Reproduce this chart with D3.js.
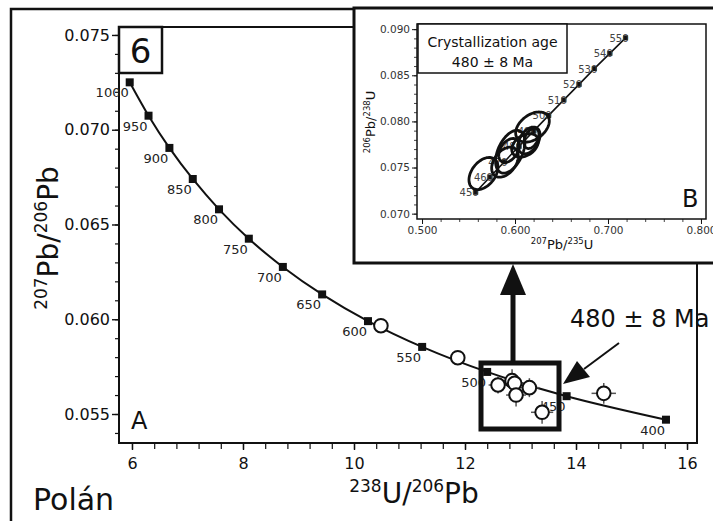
<!DOCTYPE html>
<html><head><meta charset="utf-8">
<script src="https://cdn.jsdelivr.net/npm/d3@7"></script>
<style>
html,body{margin:0;padding:0;background:#fff;}
svg{display:block;font-family:"DejaVu Sans",sans-serif;}
</style></head>
<body>
<svg id="c" width="713" height="521"></svg>
<script>
// ---- Main Tera-Wasserburg concordia (age markers) ----
const mainAges = [1000, 950, 900, 850, 800, 750, 700, 650, 600, 550, 500, 450, 400];
const mainU238Pb206 = [5.959, 6.298, 6.674, 7.095, 7.568, 8.105, 8.718, 9.426, 10.252, 11.228, 12.399, 13.831, 15.621];
const mainPb207Pb206 = [0.07250, 0.07074, 0.06904, 0.06740, 0.06580, 0.06425, 0.06276, 0.06131, 0.05990, 0.05854, 0.05722, 0.05594, 0.05470];

// ---- Main analyses (open circles with error crosses) ----
const ptU238Pb206 = [10.485, 11.870, 12.595, 12.848, 12.895, 13.160, 12.920, 13.389, 14.500];
const ptPb207Pb206 = [0.05966, 0.05797, 0.05653, 0.05676, 0.05662, 0.05639, 0.05600, 0.05509, 0.05609];
const ptErrX = [0.08, 0.08, 0.17, 0.15, 0.15, 0.18, 0.18, 0.20, 0.22];
const ptErrY = [0.0002, 0.0002, 0.00045, 0.0006, 0.0005, 0.0005, 0.0006, 0.0006, 0.00055];

// ---- Main axis ticks ----
const mainXTicks = [6, 8, 10, 12, 14, 16];
const mainYTicks = [0.055, 0.060, 0.065, 0.070, 0.075];

// ---- Inset Wetherill concordia ----
const insetAges = [450, 460, 470, 480, 490, 500, 510, 520, 530, 540, 550];
const insetPb207U235 = [0.5577, 0.5731, 0.5886, 0.6043, 0.6202, 0.6362, 0.6525, 0.6689, 0.6853, 0.7020, 0.7189];
const insetPb206U238 = [0.07232, 0.07397, 0.07563, 0.07730, 0.07897, 0.08065, 0.08233, 0.08402, 0.08572, 0.08738, 0.08906];

// ---- Inset error ellipses ----
const ellX = [0.5661, 0.5892, 0.5949, 0.5935, 0.6108, 0.6151, 0.6188, 0.6177];
const ellY = [0.07435, 0.07558, 0.07671, 0.07685, 0.07740, 0.07794, 0.07939, 0.07816];
const ellSX = [0.0156, 0.0143, 0.0158, 0.0110, 0.0143, 0.0118, 0.0181, 0.0080];
const ellSY = [0.00174, 0.00163, 0.00232, 0.00130, 0.00127, 0.00145, 0.00163, 0.00110];
const ellRho = [0.4, 0.4, 0.45, 0.4, 0.35, 0.4, 0.4, 0.4];

const insetXTicks = [0.5, 0.6, 0.7, 0.8];
const insetYTicks = [0.070, 0.075, 0.080, 0.085, 0.090];

const svg = d3.select("#c");
const ink = "#111";

// ---------- outer frame ----------
svg.append("path").attr("d", "M11,521 L11,9 L360,9").attr("fill","none").attr("stroke",ink).attr("stroke-width",2.5);

// ---------- main plot ----------
const mL = 119, mR = 697, mT = 27, mB = 443;
const x = d3.scaleLinear().domain([5.766, 16.18]).range([mL, mR]);
const y = d3.scaleLinear().domain([0.05347, 0.07542]).range([mB, mT]);

const g = svg.append("g");

// minor ticks
const xMinor = d3.range(6, 16.001, 0.4);
g.append("g").attr("transform",`translate(0,${mB})`)
  .call(d3.axisBottom(x).tickValues(xMinor).tickSize(6).tickFormat(""))
  .call(a=>a.select(".domain").remove())
  .call(a=>a.selectAll("line").attr("stroke",ink).attr("stroke-width",1.2));
const yMinor = d3.range(0.054, 0.0751, 0.001);
g.append("g").attr("transform",`translate(${mL},0)`)
  .call(d3.axisLeft(y).tickValues(yMinor).tickSize(4).tickFormat(""))
  .call(a=>a.select(".domain").remove())
  .call(a=>a.selectAll("line").attr("stroke",ink).attr("stroke-width",1.2));
// major ticks
g.append("g").attr("transform",`translate(0,${mB})`)
  .call(d3.axisBottom(x).tickValues(mainXTicks).tickSize(7).tickPadding(8).tickFormat(d3.format("d")))
  .call(a=>a.select(".domain").remove())
  .call(a=>a.selectAll("line").attr("stroke",ink).attr("stroke-width",1.4))
  .call(a=>a.selectAll("text").attr("font-size",16).attr("fill",ink).attr("font-family","DejaVu Sans"));
g.append("g").attr("transform",`translate(${mL},0)`)
  .call(d3.axisLeft(y).tickValues(mainYTicks).tickSize(7).tickPadding(2).tickFormat(d3.format(".3f")))
  .call(a=>a.select(".domain").remove())
  .call(a=>a.selectAll("line").attr("stroke",ink).attr("stroke-width",1.4))
  .call(a=>a.selectAll("text").attr("font-size",16).attr("fill",ink).attr("font-family","DejaVu Sans"));

// plot frame (left, bottom, right partial, top partial)
g.append("path").attr("d",`M360,${mT} L${mL},${mT} L${mL},${mB} L${mR},${mB} L${mR},262`)
  .attr("fill","none").attr("stroke",ink).attr("stroke-width",2);

// concordia curve
const cData = mainAges.map((a,i)=>({a, x:mainU238Pb206[i], y:mainPb207Pb206[i]}));
g.append("path").datum(cData)
  .attr("d", d3.line().x(d=>x(d.x)).y(d=>y(d.y)).curve(d3.curveCatmullRom))
  .attr("fill","none").attr("stroke",ink).attr("stroke-width",2);
g.selectAll("rect.m").data(cData).join("rect").attr("class","m")
  .attr("x",d=>x(d.x)-4).attr("y",d=>y(d.y)-4).attr("width",8).attr("height",8).attr("fill",ink);
g.selectAll("text.age").data(cData).join("text").attr("class","age")
  .attr("x",d=>x(d.x)-1).attr("y",d=>y(d.y)+15).attr("text-anchor","end")
  .attr("font-size",13).attr("fill","#222").text(d=>d.a);

// analyses
const pData = ptU238Pb206.map((v,i)=>({x:v, y:ptPb207Pb206[i], ex:ptErrX[i], ey:ptErrY[i]}));
const pg = g.append("g");
pData.forEach(d=>{
  pg.append("line").attr("x1",x(d.x-d.ex)).attr("x2",x(d.x+d.ex)).attr("y1",y(d.y)).attr("y2",y(d.y))
    .attr("stroke","#555").attr("stroke-width",1.5);
  pg.append("line").attr("x1",x(d.x)).attr("x2",x(d.x)).attr("y1",y(d.y-d.ey)).attr("y2",y(d.y+d.ey))
    .attr("stroke","#555").attr("stroke-width",1.5);
});
pg.selectAll("circle").data(pData).join("circle")
  .attr("cx",d=>x(d.x)).attr("cy",d=>y(d.y)).attr("r",6.8)
  .attr("fill","#fff").attr("stroke",ink).attr("stroke-width",2);

// highlight box
g.append("rect").attr("x",481).attr("y",363).attr("width",78).attr("height",66)
  .attr("fill","none").attr("stroke",ink).attr("stroke-width",5);
// vertical arrow
g.append("line").attr("x1",513).attr("x2",513).attr("y1",361).attr("y2",292)
  .attr("stroke",ink).attr("stroke-width",5);
g.append("path").attr("d","M513,264 L526,295 L500,295 Z").attr("fill",ink);
// diagonal arrow
g.append("line").attr("x1",619).attr("y1",343).attr("x2",584).attr("y2",369)
  .attr("stroke",ink).attr("stroke-width",2);
g.append("path").attr("d","M563,384 L577,361 L590,377 Z").attr("fill",ink);

// texts
g.append("text").attr("x",570).attr("y",327).attr("font-size",24).attr("fill",ink).text("480 ± 8 Ma");
g.append("rect").attr("x",mL).attr("y",mT).attr("width",43).attr("height",46)
  .attr("fill","#fff").attr("stroke",ink).attr("stroke-width",2.5);
g.append("text").attr("x",mL+21.5).attr("y",63).attr("text-anchor","middle").attr("font-size",34).attr("fill",ink).text("6");
g.append("text").attr("x",131).attr("y",429).attr("font-size",24).attr("fill",ink).text("A");
g.append("text").attr("x",33).attr("y",510).attr("font-size",30).attr("fill",ink).text("Polán");

// axis titles
const xt = g.append("text").attr("x",414).attr("y",503).attr("text-anchor","middle").attr("font-size",28).attr("fill",ink);
xt.append("tspan").attr("font-size",17).attr("dy",-11).text("238");
xt.append("tspan").attr("dy",11).text("U/");
xt.append("tspan").attr("font-size",17).attr("dy",-11).text("206");
xt.append("tspan").attr("dy",11).text("Pb");
const yt = g.append("text").attr("transform","translate(58,238) rotate(-90)").attr("text-anchor","middle").attr("font-size",28).attr("fill",ink);
yt.append("tspan").attr("font-size",17).attr("dy",-11).text("207");
yt.append("tspan").attr("dy",11).text("Pb/");
yt.append("tspan").attr("font-size",17).attr("dy",-11).text("206");
yt.append("tspan").attr("dy",11).text("Pb");

// ---------- inset ----------
const ig = svg.append("g");
ig.append("rect").attr("x",354).attr("y",8).attr("width",380).attr("height",255)
  .attr("fill","#fff").attr("stroke",ink).attr("stroke-width",3);
const iL = 417, iR = 706, iT = 24, iB = 219;
const ix = d3.scaleLinear().domain([0.4946, 0.8054]).range([iL, iR]);
const iy = d3.scaleLinear().domain([0.06942, 0.09056]).range([iB, iT]);

ig.append("g").attr("transform",`translate(0,${iB})`)
  .call(d3.axisBottom(ix).tickValues(d3.range(0.5, 0.8001, 0.02)).tickSize(3).tickFormat(""))
  .call(a=>a.select(".domain").remove()).call(a=>a.selectAll("line").attr("stroke","#444"));
ig.append("g").attr("transform",`translate(${iL},0)`)
  .call(d3.axisLeft(iy).tickValues(d3.range(0.070, 0.0901, 0.001)).tickSize(3).tickFormat(""))
  .call(a=>a.select(".domain").remove()).call(a=>a.selectAll("line").attr("stroke","#444"));
ig.append("g").attr("transform",`translate(0,${iB})`)
  .call(d3.axisBottom(ix).tickValues(insetXTicks).tickSize(5).tickPadding(3).tickFormat(d3.format(".3f")))
  .call(a=>a.select(".domain").remove())
  .call(a=>a.selectAll("line").attr("stroke",ink))
  .call(a=>a.selectAll("text").attr("font-size",10.5).attr("fill","#333").attr("font-family","DejaVu Sans"));
ig.append("g").attr("transform",`translate(${iL},0)`)
  .call(d3.axisLeft(iy).tickValues(insetYTicks).tickSize(5).tickPadding(2).tickFormat(d3.format(".3f")))
  .call(a=>a.select(".domain").remove())
  .call(a=>a.selectAll("line").attr("stroke",ink))
  .call(a=>a.selectAll("text").attr("font-size",10.5).attr("fill","#333").attr("font-family","DejaVu Sans"));
ig.append("rect").attr("x",iL).attr("y",iT).attr("width",iR-iL).attr("height",iB-iT)
  .attr("fill","none").attr("stroke",ink).attr("stroke-width",1.5);

const iData = insetAges.map((a,i)=>({a, x:insetPb207U235[i], y:insetPb206U238[i]}));
ig.append("path").datum(iData).attr("d", d3.line().x(d=>ix(d.x)).y(d=>iy(d.y)))
  .attr("fill","none").attr("stroke",ink).attr("stroke-width",1.6);
ig.selectAll("rect.im").data(iData).join("rect").attr("class","im")
  .attr("x",d=>ix(d.x)-2.5).attr("y",d=>iy(d.y)-2.5).attr("width",5).attr("height",5).attr("fill",ink);
ig.selectAll("text.ia").data(iData).join("text").attr("class","ia")
  .attr("x",d=>ix(d.x)+3).attr("y",d=>iy(d.y)+4).attr("text-anchor","end")
  .attr("font-size",10).attr("fill","#444").text(d=>d.a);

// ellipses
const eData = ellX.map((v,i)=>({x:v, y:ellY[i], sx:ellSX[i], sy:ellSY[i], r:ellRho[i]}));
const eLine = d3.line().curve(d3.curveLinearClosed);
ig.selectAll("path.el").data(eData).join("path").attr("class","el")
  .attr("d", d=>{
    const pts = d3.range(0, 2*Math.PI, Math.PI/40).map(t=>{
      const dx = d.sx*Math.cos(t);
      const dy = d.sy*(d.r*Math.cos(t) + Math.sqrt(1-d.r*d.r)*Math.sin(t));
      return [ix(d.x+dx), iy(d.y+dy)];
    });
    return eLine(pts);
  })
  .attr("fill","none").attr("stroke",ink).attr("stroke-width",2.8);

// label box
ig.append("rect").attr("x",418).attr("y",24).attr("width",149).attr("height",49)
  .attr("fill","#fff").attr("stroke",ink).attr("stroke-width",1.5);
ig.append("text").attr("x",492.5).attr("y",47).attr("text-anchor","middle").attr("font-size",14).attr("fill",ink).text("Crystallization age");
ig.append("text").attr("x",492.5).attr("y",67).attr("text-anchor","middle").attr("font-size",14).attr("fill",ink).text("480 ± 8 Ma");
ig.append("text").attr("x",682).attr("y",207).attr("font-size",24).attr("fill",ink).text("B");

// inset axis titles
const ixt = ig.append("text").attr("x",562).attr("y",249).attr("text-anchor","middle").attr("font-size",13).attr("fill",ink);
ixt.append("tspan").attr("font-size",8.5).attr("dy",-5).text("207");
ixt.append("tspan").attr("dy",5).text("Pb/");
ixt.append("tspan").attr("font-size",8.5).attr("dy",-5).text("235");
ixt.append("tspan").attr("dy",5).text("U");
const iyt = ig.append("text").attr("transform","translate(375,122) rotate(-90)").attr("text-anchor","middle").attr("font-size",13).attr("fill",ink);
iyt.append("tspan").attr("font-size",8.5).attr("dy",-5).text("206");
iyt.append("tspan").attr("dy",5).text("Pb/");
iyt.append("tspan").attr("font-size",8.5).attr("dy",-5).text("238");
iyt.append("tspan").attr("dy",5).text("U");
</script>
</body></html>
